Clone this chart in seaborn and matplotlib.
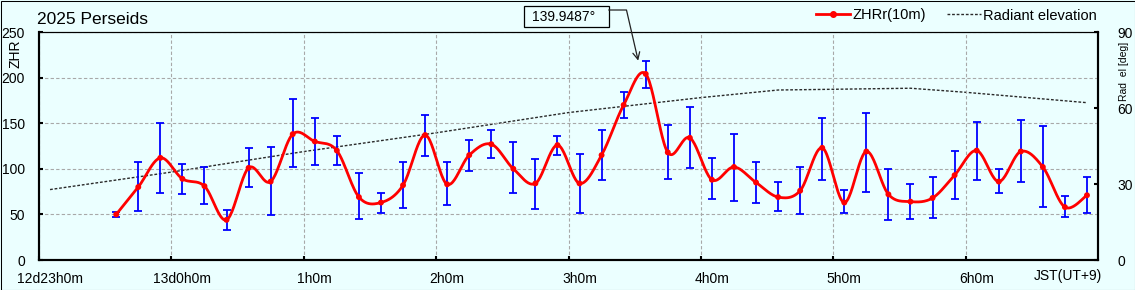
import numpy as np
import matplotlib
matplotlib.use("Agg")
import matplotlib.pyplot as plt
import seaborn as sns
from matplotlib.lines import Line2D
from matplotlib.patches import Rectangle
from matplotlib.transforms import ScaledTranslation

# ---------------- data ----------------
title = "2025 Perseids"
times = ["23:35", "23:45", "23:55", "0:05", "0:15", "0:25", "0:35", "0:45", "0:55",
         "1:05", "1:15", "1:25", "1:35", "1:45", "1:55", "2:05", "2:15", "2:25",
         "2:35", "2:45", "2:55", "3:05", "3:15", "3:25", "3:35", "3:45", "3:55",
         "4:05", "4:15", "4:25", "4:35", "4:45", "4:55", "5:05", "5:15", "5:25",
         "5:35", "5:45", "5:55", "6:05", "6:15", "6:25", "6:35", "6:45", "6:55"]
zhr = [50, 80, 112, 89, 81, 44, 101, 86, 138,
       130, 120, 69, 63, 82, 137, 83, 115, 127,
       100, 84, 126, 84, 115, 170, 204, 118, 134,
       88, 102, 85, 69, 76, 123, 63, 119, 72,
       64, 68, 93, 120, 86, 119, 102, 58, 71]
zhr_hi = [52.5, 108, 150, 105.6, 101.6, 55, 122.5, 124, 176,
          156, 136.5, 95, 74, 107, 159.5, 107, 132, 142,
          129, 111, 136.5, 116, 142, 184.7, 218.6, 148.5, 168,
          111.3, 138.7, 108, 86, 101.5, 156, 76.3, 161.7, 99.3,
          82.8, 90.5, 119, 151.8, 99.3, 154, 146.4, 69.7, 90.5]
zhr_lo = [47, 53.7, 73.5, 72, 61.4, 32.5, 79.7, 49, 102.5,
          104, 104, 45, 52, 57, 113.5, 60, 97.4, 111.7,
          73, 55.8, 115, 52, 87.2, 155.5, 188.7, 88.3, 100.4,
          66.4, 64.2, 62.4, 53.3, 50, 87.2, 51, 75, 43.8,
          44.5, 46, 66.8, 87.2, 73, 85, 57.8, 47, 51]
rad_times = ["23:05", "0:00", "1:00", "2:00", "3:00", "4:00", "4:35", "5:35", "6:00", "6:55"]
rad_el = [27.8, 34.7, 42.8, 50.2, 58.2, 64.1, 67.1, 67.8, 66.2, 62.1]
xtick_labels = ["12d23h0m", "13d0h0m", "1h0m", "2h0m", "3h0m", "4h0m", "5h0m", "6h0m"]
yticks_left = [0, 50, 100, 150, 200, 250]
yticks_right = [0, 30, 60, 90]
sol_long = "139.9487°"
legend_labels = ["ZHRr(10m)", "Radiant elevation"]


def hours(t):
    hh, mm = map(int, t.split(":"))
    return (hh - 23 if hh >= 23 else hh + 1) + mm / 60.0


def smooth(x, y, n=24):
    P = np.column_stack([x, y]).astype(float)
    ext = np.vstack([P[0], P, P[-1]])
    out = []
    for i in range(len(P) - 1):
        p0, p1, p2, p3 = ext[i], ext[i + 1], ext[i + 2], ext[i + 3]
        c1 = p1 + (p2 - p0) / 6.0
        c2 = p2 - (p3 - p1) / 6.0
        t = np.linspace(0, 1, n, endpoint=(i == len(P) - 2))[:, None]
        B = (1 - t) ** 3 * p1 + 3 * (1 - t) ** 2 * t * c1 + 3 * (1 - t) * t ** 2 * c2 + t ** 3 * p2
        out.append(B)
    return np.vstack(out)


# ---------------- style ----------------
W, H = 1135, 290
bg = "#EBFFFF"
plt.rcParams["font.family"] = ["Liberation Sans", "DejaVu Sans"]
plt.rcParams["text.color"] = "black"

fig = plt.figure(figsize=(W / 100, H / 100), dpi=100, facecolor=bg)
ax1 = fig.add_axes([39 / W, 30 / H, (1098 - 39) / W, (260 - 32) / H])
ax2 = ax1.twinx()
ax1.set_zorder(2)
ax2.set_zorder(1)
ax1.patch.set_visible(False)
ax2.patch.set_facecolor(bg)

x = np.array([hours(t) for t in times])
y = np.array(zhr, dtype=float)
hi = np.array(zhr_hi, dtype=float)
lo = np.array(zhr_lo, dtype=float)
rx = np.array([hours(t) for t in rad_times])

# radiant elevation
sns.lineplot(x=rx, y=rad_el, ax=ax2, color="#2a2a2a", lw=1.0,
             linestyle=(0, (2, 1.3)), estimator=None, sort=False)

# error bars
ax1.errorbar(x, y, yerr=[y - lo, hi - y], fmt="none", ecolor="#0000FF",
             elinewidth=1.3, capsize=2.6, capthick=1.3, zorder=2)

# smoothed ZHR line and points
sm = smooth(x, y)
sns.lineplot(x=sm[:, 0], y=sm[:, 1], ax=ax1, color="#FF0000", lw=2.0,
             estimator=None, sort=False, zorder=3)
sns.scatterplot(x=x, y=y, ax=ax1, color="#FF0000", s=18, edgecolor="none",
                linewidth=0, zorder=4)

# axes limits / ticks
ax1.set_xlim(0, 8)
ax1.set_ylim(0, 250)
ax2.set_ylim(0, 90)
ax1.set_xticks(range(len(xtick_labels)))
ax1.set_xticklabels(xtick_labels)
ax1.set_yticks(yticks_left)
ax1.set_yticklabels([str(v) for v in yticks_left])
ax2.set_yticks(yticks_right)
ax2.set_yticklabels([str(v) for v in yticks_right])
ax1.set_xlabel("")
ax1.set_ylabel("")
ax2.set_ylabel("")

ax1.grid(True, color="#a8a8a8", linestyle=(0, (3, 2)), lw=0.8)
ax2.grid(False)

ax1.tick_params(axis="y", which="both", direction="in", length=2.6, width=1.5,
                labelsize=10, pad=10, colors="black", right=False)
ax1.tick_params(axis="x", which="both", direction="in", length=2.6, width=1.5,
                labelsize=10, pad=8.5, colors="black", top=False)
ax2.tick_params(axis="y", which="both", direction="in", length=3.0, width=1.5,
                labelsize=10, pad=14, colors="black")

for ax in (ax1, ax2):
    for s in ("left", "bottom", "right"):
        ax.spines[s].set_linewidth(1.5)
        ax.spines[s].set_color("black")
    ax.spines["top"].set_linewidth(0.8)
    ax.spines["top"].set_color("black")

off = ScaledTranslation(11 / 100, 0, fig.dpi_scale_trans)
for lab in ax1.get_xticklabels():
    lab.set_transform(lab.get_transform() + off)

# texts
fig.text(37 / W, 1 - 20 / H, title, fontsize=12.5, ha="left", va="center")
fig.text(15 / W, 1 - 54 / H, "ZHR", fontsize=10, rotation=90, ha="center", va="center")
fig.text(1124 / W, 1 - 71 / H, "Rad  el [deg]", fontsize=7.5, rotation=90,
         ha="center", va="center")
fig.text(1102 / W, 1 - 276 / H, "JST(UT+9)", fontsize=10, ha="right", va="center")

# legend
handles = [Line2D([], [], color="#FF0000", lw=2, marker="o", ms=4),
           Line2D([], [], color="#2a2a2a", lw=1, linestyle=(0, (2, 1.3)))]
ax1.legend(handles, legend_labels, ncol=2, frameon=False, fontsize=10.5,
           loc="center right", bbox_to_anchor=(1097 / W, 1 - 15.5 / H),
           bbox_transform=fig.transFigure, handlelength=2.35, handletextpad=0.15,
           columnspacing=1.45, borderpad=0, borderaxespad=0)

# solar longitude annotation
fig.add_artist(Rectangle((524 / W, 1 - 27.3 / H), 84.7 / W, 21.3 / H,
                         transform=fig.transFigure, fill=False, ec="black", lw=0.9))
fig.text(563.5 / W, 1 - 16.7 / H, sol_long, fontsize=10, ha="center", va="center")
pk = int(np.argmax(y))
ax1.annotate("", xy=(x[pk] - 0.057, hi[pk]), xycoords="data",
             xytext=(608.7 / W, 1 - 10 / H), textcoords="figure fraction",
             arrowprops=dict(arrowstyle="->,head_length=0.5,head_width=0.25",
                             color="#222222", lw=0.9, shrinkA=0, shrinkB=0,
                             connectionstyle="angle,angleA=0,angleB=103,rad=0"))

# figure border
fig.add_artist(Rectangle((0.5 / W, 0.5 / H), 1 - 1 / W, 1 - 1 / H,
                         transform=fig.transFigure, fill=False, ec="black", lw=0.75))

fig.savefig("out.png", dpi=100, facecolor=bg)
